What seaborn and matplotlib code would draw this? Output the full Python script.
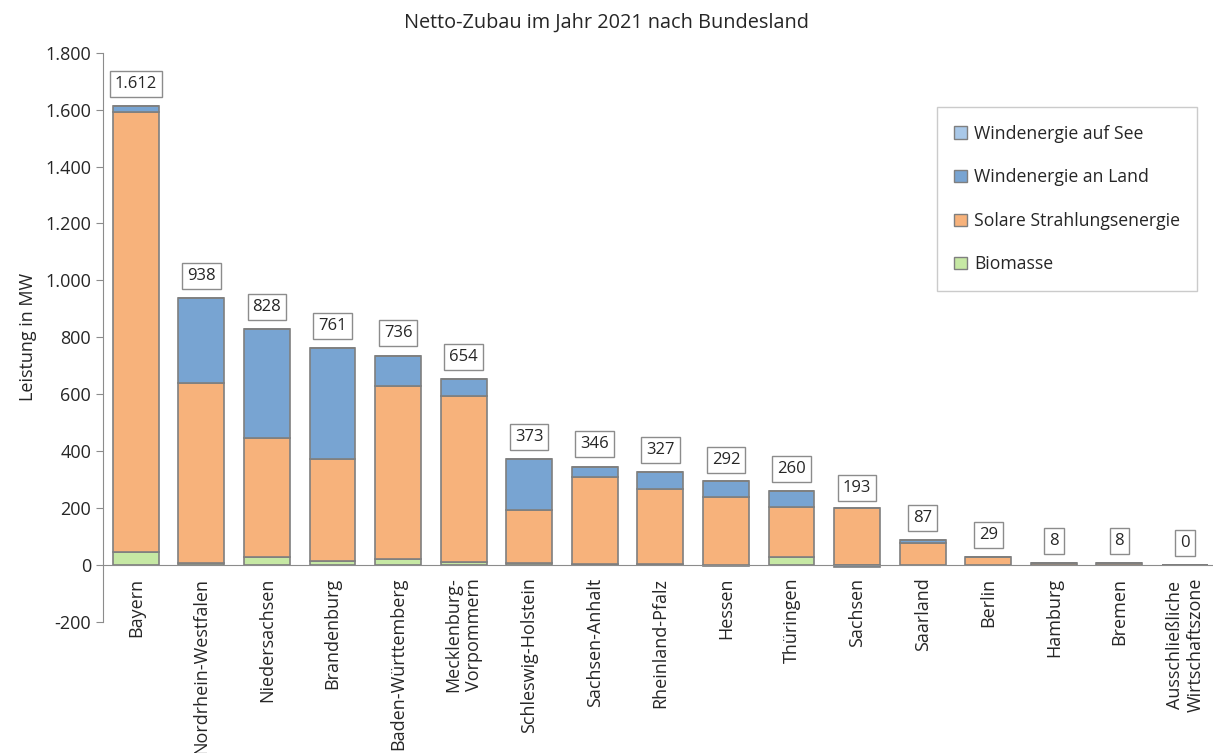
import numpy as np
import pandas as pd
import matplotlib.pyplot as plt
from matplotlib.patches import Patch
from matplotlib.ticker import FuncFormatter, FixedLocator
import seaborn as sns

# Daten (MW)
states = ['Bayern', 'Nordrhein-Westfalen', 'Niedersachsen', 'Brandenburg',
          'Baden-Württemberg', 'Mecklenburg-\nVorpommern', 'Schleswig-Holstein',
          'Sachsen-Anhalt', 'Rheinland-Pfalz', 'Hessen', 'Thüringen', 'Sachsen',
          'Saarland', 'Berlin', 'Hamburg', 'Bremen', 'Ausschließliche\nWirtschaftszone']
biomasse = [45, 8, 28, 15, 20, 10, 8, 4, 3, -3, 27, 0, 1, 1, 1, 1, 0]
solar = [1545, 633, 418, 357, 608, 584, 185, 304, 265, 240, 178, 201, 76, 28, 7, 7, 0]
wind_land = [22, 297, 382, 389, 108, 60, 180, 38, 59, 55, 55, -8, 10, 0, 0, 0, 0]
wind_see = [0, 0, 0, 0, 0, 0, 0, 0, 0, 0, 0, 0, 0, 0, 0, 0, 0]
totals = [1612, 938, 828, 761, 736, 654, 373, 346, 327, 292, 260, 193, 87, 29, 8, 8, 0]

series = [('Biomasse', biomasse, '#c6e8a4'),
          ('Solare Strahlungsenergie', solar, '#f7b27b'),
          ('Windenergie an Land', wind_land, '#78a4d2'),
          ('Windenergie auf See', wind_see, '#a9c8e8')]

sns.set_style('white')
plt.rcParams['font.family'] = ['Open Sans', 'DejaVu Sans']

fig = plt.figure(figsize=(12.13, 7.53), dpi=100)
ax = fig.add_axes([0.0849, 0.174, 0.919, 0.756])

pos_base = np.zeros(len(states))
neg_base = np.zeros(len(states))
for name, vals, col in series:
    vals = np.array(vals, dtype=float)
    bottom = np.where(vals >= 0, pos_base, neg_base)
    df = pd.DataFrame({'state': states, 'value': vals})
    sns.barplot(data=df, x='state', y='value', order=states, color=col,
                saturation=1, width=0.7, bottom=bottom, edgecolor='#7f7f7f',
                linewidth=1.2, ax=ax)
    pos_base += np.where(vals >= 0, vals, 0)
    neg_base += np.where(vals < 0, vals, 0)

# Datenbeschriftungen (Summen)
for i, t in enumerate(totals):
    lab = f'{t:,}'.replace(',', '.')
    ax.annotate(lab, (i, t), xytext=(0, 16), textcoords='offset points',
                ha='center', va='center', fontsize=12, color='#262626',
                bbox=dict(boxstyle='square,pad=0.3', fc='white', ec='#8c8c8c', lw=1))

ax.set_ylim(-200, 1800)
ax.set_xlim(-0.5, 16.5)
ax.yaxis.set_major_locator(FixedLocator(np.arange(-200, 1801, 200)))
ax.yaxis.set_major_formatter(FuncFormatter(lambda v, p: f'{int(v):,}'.replace(',', '.')))

for s in ['top', 'right']:
    ax.spines[s].set_visible(False)
ax.spines['left'].set_color('#8c8c8c')
ax.spines['bottom'].set_color('#8c8c8c')
ax.spines['bottom'].set_position(('data', 0))

ax.set_xticks(np.arange(-0.5, 17, 1), minor=True)
ax.tick_params(axis='x', which='minor', length=6, color='#8c8c8c', direction='out')
ax.tick_params(axis='x', which='major', length=0, pad=9, labelsize=13, labelcolor='#262626')
ax.tick_params(axis='y', length=5, color='#8c8c8c', direction='out', labelsize=13,
               labelcolor='#262626', left=True)
plt.setp(ax.get_xticklabels(), rotation=90, va='top', ha='center', multialignment='center')

ax.set_xlabel('')
ax.set_ylabel('Leistung in MW', fontsize=13, color='#262626', labelpad=6)
fig.text(0.5, 1 - 23 / 753, 'Netto-Zubau im Jahr 2021 nach Bundesland',
         fontsize=14.3, color='#262626', ha='center', va='center')

handles = [Patch(facecolor=c, edgecolor='#7f7f7f', label=n) for n, v, c in reversed(series)]
leg = ax.legend(handles=handles, loc='upper left', bbox_to_anchor=(0.740, 0.92),
                fontsize=12.7, frameon=True, fancybox=False, edgecolor='#bfbfbf',
                handlelength=0.7, handleheight=0.7, handletextpad=0.4,
                labelspacing=1.45, borderpad=1.0)
for t in leg.get_texts():
    t.set_color('#262626')

fig.savefig('out.png', dpi=100, facecolor='white')
